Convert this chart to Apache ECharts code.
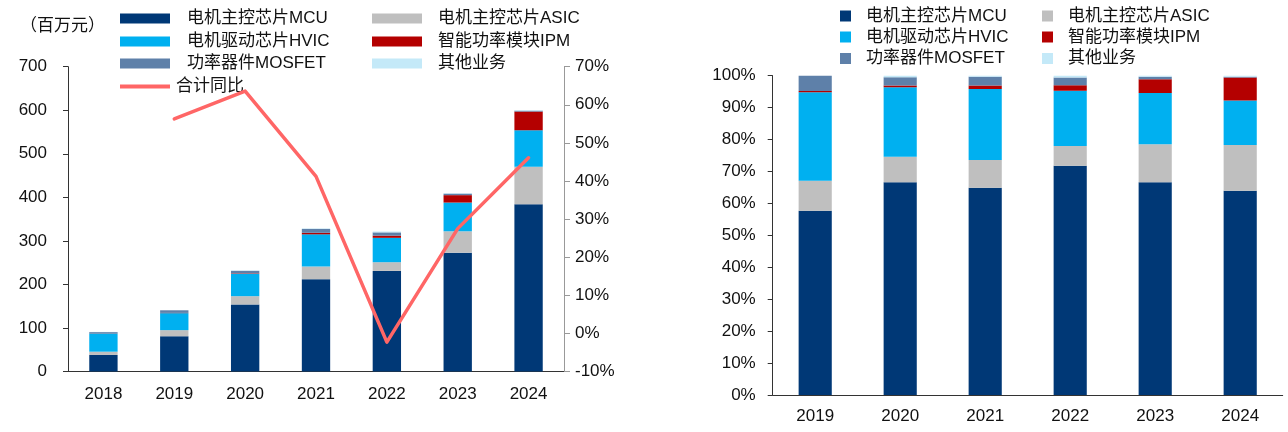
<!DOCTYPE html>
<html>
<head>
<meta charset="utf-8">
<script src="https://cdn.jsdelivr.net/npm/echarts@6/dist/echarts.min.js"></script>
<style>
html,body{margin:0;padding:0;background:#fff;}
#c{width:1288px;height:432px;}
</style>
</head>
<body>
<div id="c"></div>
<script>
// ---- data (left chart, 百万元) ----
const yearsL = ['2018','2019','2020','2021','2022','2023','2024'];
const mcuL    = [38, 81, 154, 212, 231, 273, 384];
const asicL   = [7.5, 14, 19, 29, 20, 49, 86];
const hvicL   = [42, 39, 51, 74, 56, 66, 84];
const ipmL    = [0.5, 0.6, 1.2, 3.5, 5, 17, 43];
const mosfetL = [2.5, 6, 6, 9, 7.5, 3.5, 2];
const otherL  = [0.5, 0, 1, 1, 2, 1, 1.5];
const yoyL    = [null, 56.3, 63.6, 41.2, -2.3, 27.5, 46.1];
const leftTicks = {min: 0, max: 700, interval: 100};
const rightTicks = {min: -10, max: 70, interval: 10};

// ---- data (right chart, %) ----
const yearsR  = ['2019','2020','2021','2022','2023','2024'];
const mcuR    = [57.7, 66.6, 64.9, 71.8, 66.6, 64.0];
const asicR   = [9.4, 8.0, 8.7, 6.2, 11.9, 14.3];
const hvicR   = [27.7, 21.8, 22.2, 17.3, 16.1, 13.9];
const ipmR    = [0.4, 0.5, 1.1, 1.7, 4.3, 7.2];
const mosfetR = [4.8, 2.6, 2.8, 2.4, 0.8, 0.3];
const otherR  = [0, 0.5, 0.3, 0.6, 0.3, 0.3];
const pctTicks = {min: 0, max: 100, interval: 10};

const names = ['电机主控芯片MCU','电机主控芯片ASIC','电机驱动芯片HVIC','智能功率模块IPM','功率器件MOSFET','其他业务'];
const lineName = '合计同比';
const colors = ['#003876','#BFBFBF','#00B0F0','#B40000','#5E80A9','#C4E9F8'];
const lineColor = '#FF6666';

const FONT = '"Liberation Sans", Arial, "Noto Sans CJK SC", sans-serif';
const chart = echarts.init(document.getElementById('c'));

const leftSeriesData = [mcuL, asicL, hvicL, ipmL, mosfetL, otherL];
const rightSeriesData = [mcuR, asicR, hvicR, ipmR, mosfetR, otherR];

const series = [];
names.forEach((n, i) => {
  series.push({
    name: n, type: 'bar', stack: 'L', xAxisIndex: 0, yAxisIndex: 0,
    barWidth: '40%', itemStyle: {color: colors[i]}, data: leftSeriesData[i]
  });
});
series.push({
  name: lineName, type: 'line', xAxisIndex: 0, yAxisIndex: 1,
  showSymbol: false, symbol: 'none', connectNulls: false,
  lineStyle: {color: lineColor, width: 3.5, cap: 'round', join: 'round'},
  itemStyle: {color: lineColor}, data: yoyL, z: 5
});
names.forEach((n, i) => {
  series.push({
    name: n, type: 'bar', stack: 'R', xAxisIndex: 1, yAxisIndex: 2,
    barWidth: '39%', itemStyle: {color: colors[i]}, data: rightSeriesData[i]
  });
});

function lg(name, left, cy, opts) {
  return Object.assign({
    data: [name], left: left, top: cy - 8, padding: 0, selectedMode: false,
    itemWidth: 50, itemHeight: 10, icon: 'rect',
    textStyle: {fontSize: 17, color: '#111', fontFamily: FONT, padding: [0,0,0,12]}
  }, opts || {});
}
const legends = [
  lg(names[0], 120, 18),
  lg(names[2], 120, 41),
  lg(names[4], 120, 63),
  lg(names[1], 372, 18, {textStyle: {fontSize: 17, color: '#111', fontFamily: FONT, padding: [0,0,0,11]}}),
  lg(names[3], 372, 41, {textStyle: {fontSize: 17, color: '#111', fontFamily: FONT, padding: [0,0,0,11]}}),
  lg(names[5], 372, 63, {textStyle: {fontSize: 17, color: '#111', fontFamily: FONT, padding: [0,0,0,11]}}),
  lg(lineName, 120, 86, {itemHeight: 4, textStyle: {fontSize: 17, color: '#111', fontFamily: FONT, padding: [0,0,0,1]}}),
];
const rPos = [[840,15.5],[1042,15.5],[840,36.5],[1042,36.5],[840,58],[1042,58]];
names.forEach((n, i) => {
  legends.push(lg(n, rPos[i][0], rPos[i][1], {itemWidth: 11, itemHeight: 11,
    textStyle: {fontSize: 17, color: '#111', fontFamily: FONT, padding: [0,0,0,10]}}));
});

const axisLabel = {fontSize: 17, color: '#111', fontFamily: FONT};

chart.setOption({
  animation: false,
  backgroundColor: '#fff',
  legend: legends,
  graphic: [{
    type: 'text', left: 20, top: 18,
    style: {text: '（百万元）', fontSize: 17, fill: '#111', fontFamily: FONT}
  }],
  grid: [
    {left: 68, right: 724, top: 66.7, bottom: 60.5, outerBoundsMode: 'none'},
    {left: 772.7, right: 5.3, top: 75.7, bottom: 37, outerBoundsMode: 'none'}
  ],
  xAxis: [
    {type: 'category', gridIndex: 0, data: yearsL,
     axisLine: {lineStyle: {color: '#333', width: 1}},
     axisTick: {length: 5, lineStyle: {color: '#333'}},
     axisLabel: Object.assign({margin: 14}, axisLabel)},
    {type: 'category', gridIndex: 1, data: yearsR,
     axisLine: {lineStyle: {color: '#333', width: 1}},
     axisTick: {length: 5, lineStyle: {color: '#333'}},
     axisLabel: Object.assign({margin: 13}, axisLabel)}
  ],
  yAxis: [
    {type: 'value', gridIndex: 0, min: leftTicks.min, max: leftTicks.max, interval: leftTicks.interval,
     splitLine: {show: false},
     axisLine: {show: true, lineStyle: {color: '#333'}},
     axisTick: {show: true, length: 5, lineStyle: {color: '#333'}},
     axisLabel: Object.assign({margin: 21}, axisLabel)},
    {type: 'value', gridIndex: 0, position: 'right', min: rightTicks.min, max: rightTicks.max, interval: rightTicks.interval,
     splitLine: {show: false},
     axisLine: {show: true, lineStyle: {color: '#999'}},
     axisTick: {show: true, length: 6, lineStyle: {color: '#999'}},
     axisLabel: Object.assign({margin: 11, formatter: '{value}%'}, axisLabel)},
    {type: 'value', gridIndex: 1, min: pctTicks.min, max: pctTicks.max, interval: pctTicks.interval,
     splitLine: {show: false},
     axisLine: {show: true, lineStyle: {color: '#333'}},
     axisTick: {show: true, length: 5, lineStyle: {color: '#333'}},
     axisLabel: Object.assign({margin: 17, formatter: '{value}%'}, axisLabel)}
  ],
  series: series
});
</script>
</body>
</html>
